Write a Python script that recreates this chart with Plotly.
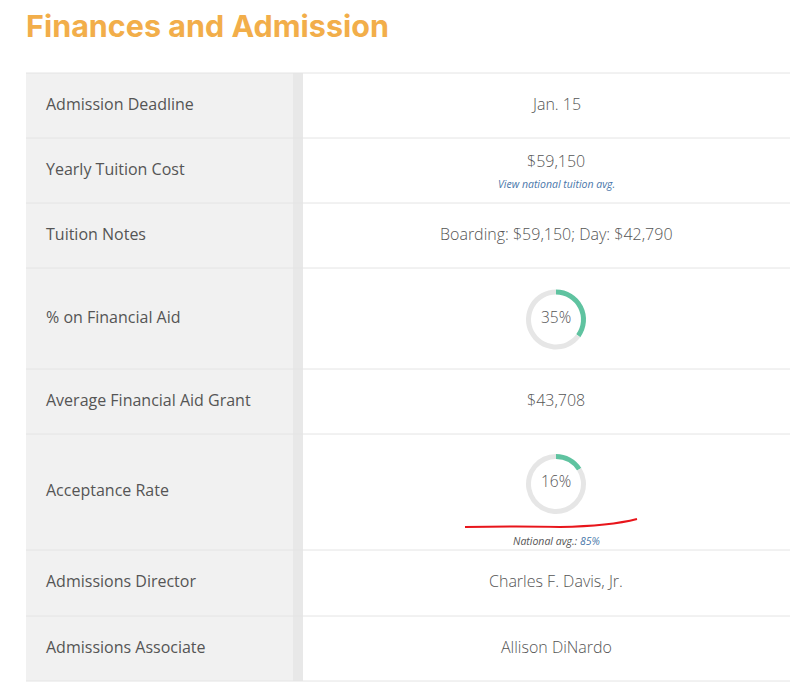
import plotly.graph_objects as go

PAGE_W, PAGE_H = 798, 690
OFF = 8                      # body margin of the html page
W, H = PAGE_W - OFF, PAGE_H - OFF

# data
row_labels = ["Admission Deadline", "Yearly Tuition Cost", "Tuition Notes",
              "% on Financial Aid", "Average Financial Aid Grant",
              "Acceptance Rate", "Admissions Director", "Admissions Associate"]
row_values = ["Jan. 15", "$59,150", "Boarding: $59,150; Day: $42,790",
              None, "$43,708", None, "Charles F. Davis, Jr.", "Allison DiNardo"]
donut_pct = {3: 35, 5: 16}
national_avg_acceptance = 85

# layout (page pixels)
row_edges = [73, 138, 203, 268, 369, 434, 550, 616, 681]
label_x = 44
col_split = 293
strip_end = 303
value_cx = 556
ring_r = 30
ring_w = 5

BODY = "Open Sans"
TXT = "#555555"
LINK = "#4a77aa"
TEAL = "#5fc3a0"
TRACK = "#e6e6e6"

fig = go.Figure()
# invisible trace so the pixel axes exist
fig.add_trace(go.Scatter(x=[OFF, PAGE_W], y=[OFF, PAGE_H], mode="markers",
                         marker=dict(opacity=0), hoverinfo="skip", showlegend=False))
shapes = []
ann = []

top, bot = row_edges[0], row_edges[-1]
shapes.append(dict(type="rect", x0=26, x1=col_split, y0=top, y1=bot,
                   fillcolor="#f1f1f1", line_width=0, layer="below"))
shapes.append(dict(type="rect", x0=col_split, x1=strip_end, y0=top, y1=bot,
                   fillcolor="#e8e8e8", line_width=0, layer="below"))
for y in row_edges:
    shapes.append(dict(type="line", x0=26, x1=PAGE_W, y0=y, y1=y,
                       line=dict(color="#e4e4e4", width=1)))

ann.append(dict(x=24, y=25, text="<b>Finances and Admission</b>", xanchor="left",
                yanchor="middle", showarrow=False,
                font=dict(family="Inter", size=30.5, color="#f2ae4a")))

for i, lab in enumerate(row_labels):
    y0, y1 = row_edges[i], row_edges[i + 1]
    cy = (y0 + y1) / 2
    ann.append(dict(x=label_x, y=cy, text=lab, xanchor="left", yanchor="middle",
                    showarrow=False, yshift=2,
                    font=dict(family=BODY, size=16, color=TXT)))
    val = row_values[i]
    if val is not None:
        vy = cy - 8 if i == 1 else cy
        ann.append(dict(x=value_cx, y=vy, text=val, xanchor="center", yanchor="middle",
                        showarrow=False, yshift=2,
                        font=dict(family=BODY, size=16, color=TXT, weight=300)))
    if i == 1:
        ann.append(dict(x=value_cx, y=cy + 14, text="<i>View national tuition avg.</i>",
                        xanchor="center", yanchor="middle", showarrow=False, yshift=1,
                        font=dict(family=BODY, size=10.5, color=LINK)))

for i, pct in donut_pct.items():
    cy = 484 if i == 5 else (row_edges[i] + row_edges[i + 1]) / 2 + 1
    fig.add_trace(go.Pie(
        values=[pct, 100 - pct], sort=False, direction="clockwise", rotation=0,
        hole=(ring_r - ring_w) / ring_r, textinfo="none", hoverinfo="skip",
        marker=dict(colors=[TEAL, TRACK], line=dict(width=0)), showlegend=False,
        domain=dict(x=[(value_cx - ring_r - OFF) / W, (value_cx + ring_r - OFF) / W],
                    y=[1 - (cy + ring_r - OFF) / H, 1 - (cy - ring_r - OFF) / H])))
    ann.append(dict(x=value_cx, y=cy, text=f"{pct}%", xanchor="center", yanchor="middle",
                    showarrow=False, yshift=3,
                    font=dict(family=BODY, size=15.5, color=TXT, weight=300)))

ann.append(dict(x=value_cx, y=542,
                text=f"<i>National avg.: <span style='color:{LINK}'>{national_avg_acceptance}%</span></i>",
                xanchor="center", yanchor="middle", showarrow=False, yshift=1,
                font=dict(family=BODY, size=10.5, color=TXT)))

# hand-drawn red underline
shapes.append(dict(type="path",
                   path="M 465 527 Q 520 526 560 527 Q 610 526 637 519",
                   line=dict(color="#e8151b", width=2)))

fig.update_layout(
    width=W, height=H, margin=dict(l=0, r=0, t=0, b=0),
    paper_bgcolor="white", plot_bgcolor="white",
    xaxis=dict(range=[OFF, PAGE_W], visible=False, fixedrange=True),
    yaxis=dict(range=[PAGE_H, OFF], visible=False, fixedrange=True),
    shapes=shapes, annotations=ann,
)
fig.write_html("out.html")
